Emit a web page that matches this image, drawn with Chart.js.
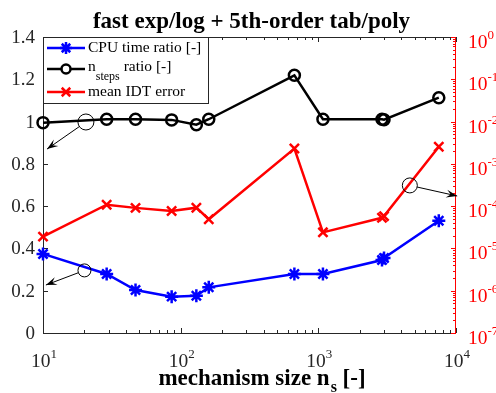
<!DOCTYPE html>
<html>
<head>
<meta charset="utf-8">
<script src="https://cdn.jsdelivr.net/npm/chart.js@4"></script>
<style>
  html, body { margin: 0; padding: 0; background: #fff; }
  canvas { display: block; }
</style>
</head>
<body>
<canvas id="chart" width="496" height="393"></canvas>
<script>
// mechanism sizes (x) and the three series
const mechSize = [10, 29, 47, 86, 130, 160, 670, 1080, 2900, 3000, 7500];
const cpuRatio = [0.374, 0.279, 0.203, 0.172, 0.176, 0.216, 0.279, 0.279, 0.345, 0.355, 0.531];
const stepsRatio = [0.995, 1.011, 1.011, 1.008, 0.985, 1.011, 1.219, 1.011, 1.011, 1.009, 1.113];
const idtError = [1.9e-5, 1.08e-4, 9.1e-5, 7.7e-5, 9.2e-5, 4.9e-5, 2.3e-3, 2.4e-5, 5.3e-5, 5.8e-5, 2.55e-3];

const leftTicks = [0, 0.2, 0.4, 0.6, 0.8, 1, 1.2, 1.4];
const leftTickLabels = ['0', '0.2', '0.4', '0.6', '0.8', '1', '1.2', '1.4'];
const xTicks = [10, 100, 1000, 10000];
const xExps = ['1', '2', '3', '4'];
const rightExps = [0, -1, -2, -3, -4, -5, -6, -7];

const SERIF = '"Liberation Serif", "DejaVu Serif", serif';
const toPts = ys => mechSize.map((x, i) => ({ x: x, y: ys[i] }));

// helper: draw "10^e" text
function drawPow(ctx, e, x, y, align, color) {
  ctx.fillStyle = color;
  ctx.font = '19.5px ' + SERIF;
  const bw = ctx.measureText('10').width;
  ctx.font = '13px ' + SERIF;
  const ew = ctx.measureText(e).width;
  let x0 = x;
  if (align === 'center') x0 = x - (bw + ew) / 2;
  ctx.textAlign = 'left';
  ctx.textBaseline = 'alphabetic';
  ctx.font = '19.5px ' + SERIF;
  ctx.fillText('10', x0, y);
  ctx.font = '13px ' + SERIF;
  ctx.fillText(e, x0 + bw, y - 9);
}

function arrow(ctx, x1, y1, x2, y2) {
  ctx.strokeStyle = '#000';
  ctx.fillStyle = '#000';
  ctx.lineWidth = 1;
  ctx.beginPath();
  ctx.moveTo(x1, y1);
  ctx.lineTo(x2, y2);
  ctx.stroke();
  const a = Math.atan2(y2 - y1, x2 - x1);
  const L = 11, W = 4;
  ctx.beginPath();
  ctx.moveTo(x2, y2);
  ctx.lineTo(x2 - L * Math.cos(a) + W * Math.sin(a), y2 - L * Math.sin(a) - W * Math.cos(a));
  ctx.lineTo(x2 - 0.6 * L * Math.cos(a), y2 - 0.6 * L * Math.sin(a));
  ctx.lineTo(x2 - L * Math.cos(a) - W * Math.sin(a), y2 - L * Math.sin(a) + W * Math.cos(a));
  ctx.closePath();
  ctx.fill();
}

const axesPlugin = {
  id: 'matlabAxes',
  beforeDatasetsDraw(chart) {
    const { ctx, chartArea: a, scales } = chart;
    const xs = scales.x, yl = scales.y, yr = scales.y2;
    ctx.save();
    ctx.lineWidth = 1;
    // box
    ctx.strokeStyle = '#262626';
    ctx.beginPath();
    ctx.moveTo(a.right, a.top + 0.5);
    ctx.lineTo(a.left + 0.5, a.top + 0.5);
    ctx.lineTo(a.left + 0.5, a.bottom + 0.5);
    ctx.lineTo(a.right, a.bottom + 0.5);
    ctx.stroke();
    // x ticks (major + minor), bottom and top
    for (let d = 1; d <= 4; d++) {
      for (let m = 1; m <= 9; m++) {
        const v = m * Math.pow(10, d);
        if (v > 10000) break;
        const px = Math.round(xs.getPixelForValue(v)) + 0.5;
        const len = m === 1 ? 5 : 3;
        ctx.beginPath();
        ctx.moveTo(px, a.bottom);
        ctx.lineTo(px, a.bottom - len);
        ctx.moveTo(px, a.top);
        ctx.lineTo(px, a.top + len);
        ctx.stroke();
      }
    }
    // left ticks
    leftTicks.forEach(v => {
      const py = Math.round(yl.getPixelForValue(v)) + 0.5;
      ctx.beginPath();
      ctx.moveTo(a.left, py);
      ctx.lineTo(a.left + 5, py);
      ctx.stroke();
    });
    // right red axis
    ctx.strokeStyle = '#ff0000';
    ctx.beginPath();
    ctx.moveTo(a.right - 0.5, a.top);
    ctx.lineTo(a.right - 0.5, a.bottom + 1);
    ctx.stroke();
    for (let d = -7; d <= 0; d++) {
      for (let m = 1; m <= 9; m++) {
        const v = m * Math.pow(10, d);
        if (v > 1.0001) break;
        const py = Math.round(yr.getPixelForValue(v)) + 0.5;
        const len = m === 1 ? 5 : 3;
        ctx.beginPath();
        ctx.moveTo(a.right, py);
        ctx.lineTo(a.right - len, py);
        ctx.stroke();
      }
    }
    ctx.restore();
  },
  afterDraw(chart) {
    const { ctx, chartArea: a, scales } = chart;
    const xs = scales.x, yl = scales.y, yr = scales.y2;
    ctx.save();
    // left tick labels
    ctx.fillStyle = '#262626';
    ctx.font = '19px ' + SERIF;
    ctx.textAlign = 'right';
    ctx.textBaseline = 'middle';
    leftTicks.forEach((v, i) => {
      ctx.fillText(leftTickLabels[i], a.left - 8, yl.getPixelForValue(v) + 1);
    });
    // x tick labels
    xTicks.forEach((v, i) => {
      drawPow(ctx, xExps[i], xs.getPixelForValue(v) + 1, a.bottom + 34, 'center', '#262626');
    });
    // right tick labels
    rightExps.forEach(e => {
      drawPow(ctx, String(e), a.right + 12, yr.getPixelForValue(Math.pow(10, e)) + 11, 'left', '#ff0000');
    });
    // title
    ctx.fillStyle = '#000';
    ctx.font = 'bold 23px ' + SERIF;
    ctx.textAlign = 'center';
    ctx.textBaseline = 'alphabetic';
    ctx.fillText('fast exp/log + 5th-order tab/poly', (a.left + a.right) / 2 + 2, 28);
    // x axis label with subscript
    ctx.font = 'bold 23px ' + SERIF;
    const p1 = 'mechanism size n', p3 = ' [-]';
    const w1 = ctx.measureText(p1).width, w3 = ctx.measureText(p3).width;
    ctx.font = 'bold 16px ' + SERIF;
    const w2 = ctx.measureText('s').width;
    let lx = (a.left + a.right) / 2 + 12 - (w1 + w2 + w3) / 2;
    ctx.textAlign = 'left';
    ctx.font = 'bold 23px ' + SERIF;
    ctx.fillText(p1, lx, 385);
    ctx.font = 'bold 16px ' + SERIF;
    ctx.fillText('s', lx + w1 + 1, 392);
    ctx.font = 'bold 23px ' + SERIF;
    ctx.fillText(p3, lx + w1 + w2 + 1, 385);

    // annotation circles + arrows
    ctx.strokeStyle = '#000';
    ctx.lineWidth = 1;
    const notes = [
      { cx: 20.5, cy: 0.998, r: 8, tx: 10.7, ty: 0.87, axis: yl },
      { cx: 20.0, cy: 0.296, r: 6.5, tx: 10.5, ty: 0.227, axis: yl },
      { cx: 4620, cy: 0.698, r: 7.5, tx: 10200, ty: 0.648, axis: yl }
    ];
    notes.forEach(n => {
      const cx = xs.getPixelForValue(n.cx), cy = n.axis.getPixelForValue(n.cy);
      const tx = xs.getPixelForValue(n.tx), ty = n.axis.getPixelForValue(n.ty);
      ctx.beginPath();
      ctx.arc(cx, cy, n.r, 0, Math.PI * 2);
      ctx.stroke();
      const ang = Math.atan2(ty - cy, tx - cx);
      arrow(ctx, cx + n.r * Math.cos(ang), cy + n.r * Math.sin(ang), tx, ty);
    });

    // legend
    const lx0 = a.left, ly0 = a.top, lw = 165, lh = 66;
    ctx.fillStyle = '#fff';
    ctx.fillRect(lx0, ly0, lw, lh);
    ctx.strokeStyle = '#262626';
    ctx.lineWidth = 1;
    ctx.strokeRect(lx0 + 0.5, ly0 + 0.5, lw, lh);
    const rows = [
      { color: '#0000ff', style: 'star', y: ly0 + 11 },
      { color: '#000000', style: 'circle', y: ly0 + 32 },
      { color: '#ff0000', style: 'crossRot', y: ly0 + 55 }
    ];
    rows.forEach(r => {
      ctx.strokeStyle = r.color;
      ctx.lineWidth = 2.5;
      ctx.beginPath();
      ctx.moveTo(lx0 + 4, r.y);
      ctx.lineTo(lx0 + 42, r.y);
      ctx.stroke();
      Chart.helpers.drawPoint(ctx, {
        pointStyle: r.style, radius: r.style === 'circle' ? 4.5 : 6, borderWidth: 2.5
      }, lx0 + 23, r.y);
    });
    ctx.fillStyle = '#000';
    ctx.textAlign = 'left';
    ctx.textBaseline = 'middle';
    ctx.font = '15.5px ' + SERIF;
    ctx.fillText('CPU time ratio [-]', lx0 + 45, rows[0].y);
    ctx.fillText('n', lx0 + 45, rows[1].y - 2);
    const nw = ctx.measureText('n').width;
    ctx.font = '12px ' + SERIF;
    ctx.fillText('steps', lx0 + 45 + nw, rows[1].y + 8);
    const sw = ctx.measureText('steps').width;
    ctx.font = '15.5px ' + SERIF;
    ctx.fillText(' ratio [-]', lx0 + 45 + nw + sw, rows[1].y - 2);
    ctx.fillText('mean IDT error', lx0 + 45, rows[2].y);
    ctx.restore();
  }
};

new Chart(document.getElementById('chart'), {
  type: 'line',
  data: {
    datasets: [
      {
        label: 'CPU time ratio [-]',
        data: toPts(cpuRatio),
        yAxisID: 'y',
        borderColor: '#0000ff',
        pointBorderColor: '#0000ff',
        pointStyle: 'star',
        pointRadius: 6.5,
        pointBorderWidth: 2.5,
        borderWidth: 2.5,
        fill: false,
        tension: 0,
        clip: false
      },
      {
        label: 'nsteps ratio [-]',
        data: toPts(stepsRatio),
        yAxisID: 'y',
        borderColor: '#000000',
        pointBorderColor: '#000000',
        pointBackgroundColor: 'rgba(0,0,0,0)',
        pointStyle: 'circle',
        pointRadius: 5.5,
        pointBorderWidth: 2.5,
        borderWidth: 2.5,
        fill: false,
        tension: 0,
        clip: false
      },
      {
        label: 'mean IDT error',
        data: toPts(idtError),
        yAxisID: 'y2',
        borderColor: '#ff0000',
        pointBorderColor: '#ff0000',
        pointStyle: 'crossRot',
        pointRadius: 6.5,
        pointBorderWidth: 2.5,
        borderWidth: 2.5,
        fill: false,
        tension: 0,
        clip: false
      }
    ]
  },
  options: {
    responsive: false,
    animation: false,
    layout: { padding: { left: 43, right: 40, top: 37, bottom: 60 } },
    plugins: { legend: { display: false }, tooltip: { enabled: false }, title: { display: false } },
    scales: {
      x: { type: 'logarithmic', min: 10, max: 10000, display: false },
      y: { type: 'linear', min: 0, max: 1.4, display: false },
      y2: { type: 'logarithmic', min: 1e-7, max: 1, display: false }
    }
  },
  plugins: [axesPlugin]
});
</script>
</body>
</html>
